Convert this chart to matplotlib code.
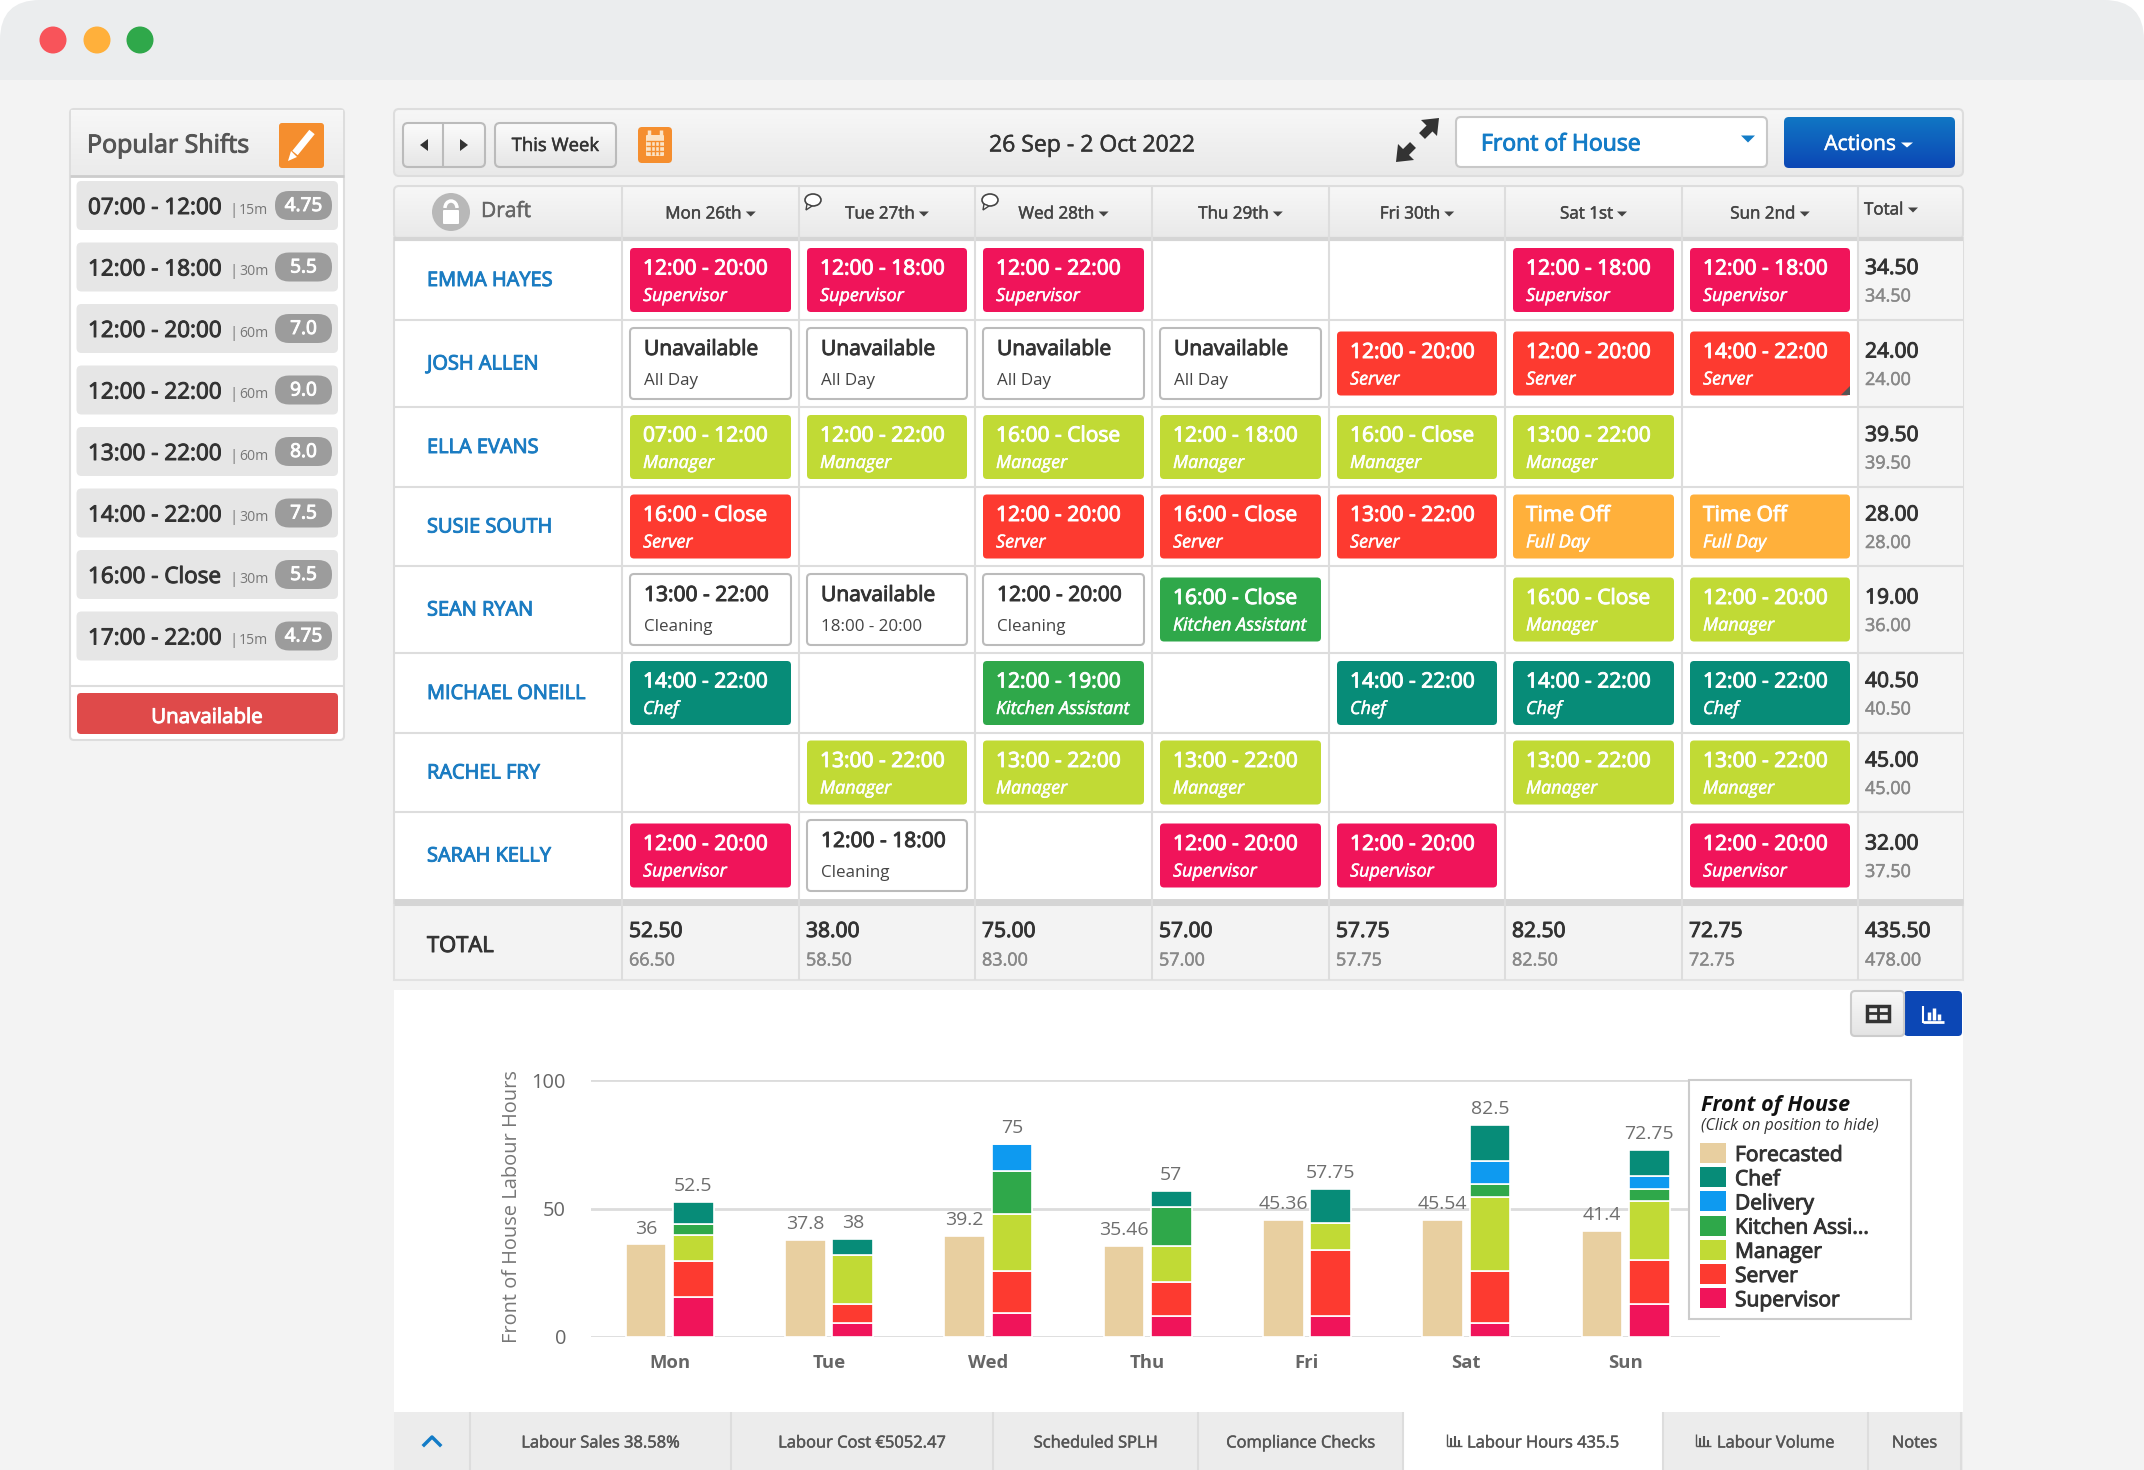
import numpy as np
import matplotlib
matplotlib.use('Agg')
import matplotlib.pyplot as plt
import matplotlib.patheffects as pe
from matplotlib.patches import FancyBboxPatch, Rectangle, Circle, Polygon, Ellipse, Arc

plt.rcParams['font.family'] = ['Open Sans', 'DejaVu Sans']

# chart data
days = ['Mon', 'Tue', 'Wed', 'Thu', 'Fri', 'Sat', 'Sun']
forecasted = [36, 37.8, 39.2, 35.46, 45.36, 45.54, 41.4]
supervisor = [15.5, 5.5, 9.5, 8, 8, 5.5, 13]
server = [14, 7.5, 16, 13.5, 25.75, 20, 17]
manager = [10, 19, 22.5, 14, 10.5, 29, 23]
kitchen = [4.5, 0, 16.5, 15, 0, 5, 4.5]
delivery = [0, 0, 10.5, 0, 0, 9, 5]
chef = [8.5, 6, 0, 6.5, 13.5, 14, 10.25]
totals = [52.5, 38, 75, 57, 57.75, 82.5, 72.75]
y_ticks = [0, 50, 100]

# roster data
day_heads = ['Mon 26th', 'Tue 27th', 'Wed 28th', 'Thu 29th', 'Fri 30th', 'Sat 1st', 'Sun 2nd']
names = ['EMMA HAYES', 'JOSH ALLEN', 'ELLA EVANS', 'SUSIE SOUTH', 'SEAN RYAN', 'MICHAEL ONEILL', 'RACHEL FRY', 'SARAH KELLY']
emma = [('12:00 - 20:00', 'Supervisor'), ('12:00 - 18:00', 'Supervisor'), ('12:00 - 22:00', 'Supervisor'), None, None, ('12:00 - 18:00', 'Supervisor'), ('12:00 - 18:00', 'Supervisor')]
josh = [('Unavailable', 'All Day'), ('Unavailable', 'All Day'), ('Unavailable', 'All Day'), ('Unavailable', 'All Day'), ('12:00 - 20:00', 'Server'), ('12:00 - 20:00', 'Server'), ('14:00 - 22:00', 'Server')]
ella = [('07:00 - 12:00', 'Manager'), ('12:00 - 22:00', 'Manager'), ('16:00 - Close', 'Manager'), ('12:00 - 18:00', 'Manager'), ('16:00 - Close', 'Manager'), ('13:00 - 22:00', 'Manager'), None]
susie = [('16:00 - Close', 'Server'), None, ('12:00 - 20:00', 'Server'), ('16:00 - Close', 'Server'), ('13:00 - 22:00', 'Server'), ('Time Off', 'Full Day'), ('Time Off', 'Full Day')]
sean = [('13:00 - 22:00', 'Cleaning'), ('Unavailable', '18:00 - 20:00'), ('12:00 - 20:00', 'Cleaning'), ('16:00 - Close', 'Kitchen Assistant'), None, ('16:00 - Close', 'Manager'), ('12:00 - 20:00', 'Manager')]
michael = [('14:00 - 22:00', 'Chef'), None, ('12:00 - 19:00', 'Kitchen Assistant'), None, ('14:00 - 22:00', 'Chef'), ('14:00 - 22:00', 'Chef'), ('12:00 - 22:00', 'Chef')]
rachel = [None, ('13:00 - 22:00', 'Manager'), ('13:00 - 22:00', 'Manager'), ('13:00 - 22:00', 'Manager'), None, ('13:00 - 22:00', 'Manager'), ('13:00 - 22:00', 'Manager')]
sarah = [('12:00 - 20:00', 'Supervisor'), ('12:00 - 18:00', 'Cleaning'), None, ('12:00 - 20:00', 'Supervisor'), ('12:00 - 20:00', 'Supervisor'), None, ('12:00 - 20:00', 'Supervisor')]
roster = [emma, josh, ella, susie, sean, michael, rachel, sarah]
row_hours = ['34.50', '24.00', '39.50', '28.00', '19.00', '40.50', '45.00', '32.00']
row_fore = ['34.50', '24.00', '39.50', '28.00', '36.00', '40.50', '45.00', '37.50']
day_hours = ['52.50', '38.00', '75.00', '57.00', '57.75', '82.50', '72.75', '435.50']
day_fore = ['66.50', '58.50', '83.00', '57.00', '57.75', '82.50', '72.75', '478.00']

# popular shifts
pop_times = ['07:00 - 12:00', '12:00 - 18:00', '12:00 - 20:00', '12:00 - 22:00', '13:00 - 22:00', '14:00 - 22:00', '16:00 - Close', '17:00 - 22:00']
pop_breaks = ['15m', '30m', '60m', '60m', '60m', '30m', '30m', '15m']
pop_hours = ['4.75', '5.5', '7.0', '9.0', '8.0', '7.5', '5.5', '4.75']

tab_labels = ['Labour Sales 38.58%', 'Labour Cost €5052.47', 'Scheduled SPLH', 'Compliance Checks', 'Labour Hours 435.5', 'Labour Volume', 'Notes']

colors = {'Supervisor': '#f0145a', 'Server': '#fd3a30', 'Manager': '#c1da35', 'Kitchen Assistant': '#2fa84a',
          'Delivery': '#0e9af0', 'Chef': '#078c78', 'Forecasted': '#e8cfa0'}
time_off = '#ffb03b'

W, H = 2144, 1470
fig = plt.figure(figsize=(W / 100, H / 100), dpi=100, facecolor='white')
ui = fig.add_axes([0, 0, 1, 1])
ui.set_xlim(0, W)
ui.set_ylim(H, 0)
ui.set_autoscale_on(False)
ui.axis('off')
renderer = fig.canvas.get_renderer()
strokes = {'medium': 0.35, 'semibold': 0.7}


def fs(px):
    return px * 0.72


def box(x0, y0, x1, y1, r=0, fc='white', ec='none', lw=1, z=2, on=None):
    if r:
        p = FancyBboxPatch((x0 + r, y0 + r), x1 - x0 - 2 * r, y1 - y0 - 2 * r, boxstyle='round,pad=%s,rounding_size=%s' % (r, r),
                           fc=fc, ec=ec, lw=lw, zorder=z)
    else:
        p = Rectangle((x0, y0), x1 - x0, y1 - y0, fc=fc, ec=ec, lw=lw, zorder=z)
    (on or ui).add_patch(p)
    return p


def grad(x0, y0, x1, y1, c0, c1, r=0, ec='none', z=2):
    p = box(x0, y0, x1, y1, r, fc='none', ec=ec, lw=1.5, z=z + 0.1)
    rgb = np.linspace(matplotlib.colors.to_rgb(c0), matplotlib.colors.to_rgb(c1), 64).reshape(64, 1, 3)
    im = ui.imshow(rgb, extent=(x0, x1, y1, y0), aspect='auto', zorder=z)
    im.set_clip_path(p)


def txt(x, y, s, px=20, color='#444444', ha='left', va='center', weight='normal', style='normal', z=5, on=None):
    kw = 'bold' if weight == 'bold' else 'normal'
    t = (on or ui).text(x, y + 2, s, fontsize=fs(px), color=color, ha=ha, va=va, fontweight=kw, fontstyle=style, zorder=z)
    if weight in strokes:
        t.set_path_effects([pe.withStroke(linewidth=strokes[weight], foreground=color)])
    return t


def caret(x, y, w=6, h=5, color='#444444', z=5):
    ui.add_patch(Polygon([(x - w, y - h / 2), (x + w, y - h / 2), (x, y + h / 2)], fc=color, ec='none', zorder=z))


def hline(x0, x1, y, color='#dddddd', lw=1.5, z=3):
    ui.plot([x0, x1], [y, y], color=color, lw=lw, zorder=z, solid_capstyle='butt')


def vline(x, y0, y1, color='#dddddd', lw=1.5, z=3):
    ui.plot([x, x], [y0, y1], color=color, lw=lw, zorder=z, solid_capstyle='butt')


# window
box(0, 0, W, H + 80, 40, fc='#ebedee', z=0)
box(0, 80, W, H, fc='#f3f3f3', z=0.5)
for cx, c in zip([53, 97, 140], ['#f8545a', '#ffb03b', '#2fa84a']):
    ui.add_patch(Circle((cx, 40), 13.5, fc=c, ec='none', zorder=3))

# popular shifts panel
box(70, 109, 344, 740, 4, fc='white', ec='#dddddd', lw=1.5)
grad(71, 110, 343, 176, '#f7f7f7', '#ebebeb', z=2.2)
hline(70, 344, 176, '#cccccc', 2)
txt(87, 144, 'Popular Shifts', 25, '#555555', weight='semibold')
box(279, 123, 324, 168, 3, fc='#f58e2e', z=3)
ui.plot([295, 312], [153, 132], color='white', lw=5, zorder=4, solid_capstyle='butt')
ui.add_patch(Polygon([(288, 161), (297, 157), (291, 151)], fc='white', ec='none', zorder=4))
for i in range(len(pop_times)):
    y0 = 181 + i * 61.5
    box(76.5, y0, 338, y0 + 49, 5, fc='#e6e6e6', z=3)
    txt(88, y0 + 25.5, pop_times[i], 22.5, '#333333', weight='semibold')
    txt(230, y0 + 27, '| ', 15, '#777777')
    txt(239, y0 + 27, pop_breaks[i], 14, '#777777')
    box(275, y0 + 10, 332, y0 + 39, 14, fc='#9c9c9c', z=4)
    txt(303.5, y0 + 23, pop_hours[i], 19, 'white', ha='center', weight='semibold')
hline(70, 344, 686, '#dddddd', 1.5)
box(77, 693, 338, 734, 4, fc='#df4a4a', z=3)
txt(207, 716, 'Unavailable', 20.5, 'white', ha='center', weight='semibold')

# toolbar
grad(394, 109, 1963, 176, '#f7f7f7', '#e9e9e9', r=5, ec='#dddddd')
grad(403, 123, 485, 167, '#fbfbfb', '#e6e6e6', r=5, ec='#bbbbbb', z=3)
vline(443, 123, 167, '#bbbbbb')
ui.add_patch(Polygon([(428, 139), (428, 151), (420, 145)], fc='#333333', zorder=5))
ui.add_patch(Polygon([(460, 139), (460, 151), (468, 145)], fc='#333333', zorder=5))
grad(495, 123, 616, 167, '#fbfbfb', '#e6e6e6', r=5, ec='#bbbbbb', z=3)
txt(555.5, 144, 'This Week', 18.5, '#333333', ha='center', weight='medium')
box(638, 127, 672, 163, 4, fc='#f58e2e', z=3)
box(646, 135, 664, 156, 1, fc='#fbe3c5', z=4)
for gx in [651, 655, 659]:
    vline(gx, 141, 155, '#f58e2e', 1, 5)
for gy in [141, 146, 151]:
    hline(646, 664, gy, '#f58e2e', 1, 5)
for gx in [649, 661]:
    vline(gx, 130, 137, '#fbe3c5', 2.5, 5)
txt(1092, 143.5, '26 Sep - 2 Oct 2022', 23, '#333333', ha='center', weight='medium')
# expand icon
ui.plot([1422, 1432], [136, 126], color='#333333', lw=6, zorder=5, solid_capstyle='butt')
ui.add_patch(Polygon([(1439, 118), (1421, 120), (1437, 136)], fc='#333333', zorder=5))
ui.plot([1413, 1403], [145, 155], color='#333333', lw=6, zorder=5, solid_capstyle='butt')
ui.add_patch(Polygon([(1396, 162), (1414, 160), (1398, 144)], fc='#333333', zorder=5))
box(1456, 117, 1767, 167, 5, fc='white', ec='#c8c8c8', lw=1.5, z=3)
txt(1481, 142.5, 'Front of House', 23, '#137cc7', weight='semibold')
caret(1748, 139, 7, 7, '#137cc7')
grad(1784, 117, 1955, 168, '#1076c4', '#0c47b5', r=5, z=3)
txt(1860, 142.5, 'Actions', 21, 'white', ha='center', weight='medium')
caret(1907, 145, 6, 5, 'white')

# roster table
col_x = [622, 799, 975, 1152, 1329, 1505, 1682, 1858]
row_y = [240, 320, 407, 487, 566, 653, 733, 812, 899]
grad(394, 186, 1963, 239, '#f7f7f7', '#e9e9e9', r=5, ec='#dddddd')
box(394, 238, 1963, 905, fc='white', ec='#dddddd', lw=1.5)
box(1858, 240, 1963, 899, fc='#f5f5f5', z=2.2)
box(394, 905, 1963, 980, fc='#f3f3f3', ec='#e2e2e2', lw=1.5)
hline(394, 1963, 239, '#d5d5d5', 3)
hline(394, 1963, 902, '#d5d5d5', 5)
for y in row_y[1:-1]:
    hline(394, 1963, y)
for x in col_x:
    vline(x, 186, 980)

ui.add_patch(Circle((451, 212), 19, fc='#b8b8b8', ec='none', zorder=4))
box(443, 210, 459, 224, 1, fc='white', z=5)
ui.add_patch(Arc((451, 208), 12, 14, theta1=180, theta2=360, color='white', lw=2.5, zorder=5))
txt(481, 209.5, 'Draft', 21, '#666666', weight='medium')
for i, d in enumerate(day_heads):
    cx = (col_x[i] + col_x[i + 1]) / 2
    t = txt(cx - 7, 212.5, d, 17, '#444444', ha='center', weight='medium')
    caret(t.get_window_extent(renderer).x1 + 9, 214, 5, 5)
txt(1864, 208.5, 'Total', 17, '#444444', weight='medium')
caret(1913, 210, 5, 5)
for bx in [813, 990]:
    ui.add_patch(Ellipse((bx, 200), 16, 12, fc='white', ec='#444444', lw=1.2, zorder=5))
    ui.add_patch(Polygon([(bx - 6, 204), (bx - 7, 210), (bx - 1, 206)], fc='white', ec='#444444', lw=1, zorder=5))

for r, name in enumerate(names):
    top, bot = row_y[r], row_y[r + 1]
    cy = (top + bot) / 2
    txt(427, cy - 1, name, 20, '#1b7cc2', weight='semibold')
    txt(1865, cy - 13.5, row_hours[r], 21, '#333333', weight='semibold')
    txt(1865, cy + 14.5, row_fore[r], 18, '#888888', weight='medium')
    for c, cell in enumerate(roster[r]):
        if cell is None:
            continue
        x0, x1 = col_x[c] + 8, col_x[c + 1] - 8
        main, sub = cell
        plain = sub in ('All Day', 'Cleaning', '18:00 - 20:00')
        if plain:
            box(x0, cy - 35.5, x1, cy + 35.5, 4, fc='white', ec='#bbbbbb', lw=1.5, z=3)
            txt(x0 + 14, cy - 16, main, 21, '#333333', weight='semibold')
            txt(x0 + 14, cy + 15, sub, 17, '#444444')
        else:
            fc = time_off if main == 'Time Off' else colors[sub]
            box(x0, cy - 32, x1, cy + 32, 4, fc=fc, z=3)
            txt(x0 + 13, cy - 13, main, 21, 'white', weight='semibold')
            txt(x0 + 13, cy + 14, sub, 18, 'white', style='italic', weight='medium')

# corner mark on josh's sunday shift
ui.add_patch(Polygon([(1850, 395), (1850, 386), (1841, 395)], fc='#555555', ec='none', zorder=4))

txt(427, 944.5, 'TOTAL', 22, '#333333', weight='semibold')
for i in range(8):
    txt(col_x[i] + 7, 929.5, day_hours[i], 21, '#333333', weight='semibold')
    txt(col_x[i] + 7, 958.5, day_fore[i], 18, '#888888', weight='medium')

# chart panel
box(394, 990, 1963, H, fc='white', z=1)
grad(1851, 991, 1904, 1036, '#f8f8f8', '#e4e4e4', r=4, ec='#cccccc', z=3)
box(1904, 991, 1962, 1036, 4, fc='#0c47b5', z=3)
box(1867, 1006, 1889, 1021, fc='none', ec='#333333', lw=2.5, z=5)
vline(1878, 1006, 1021, '#333333', 2, 5)
hline(1867, 1889, 1013, '#333333', 2, 5)
for bx, by in [(1929, 1012), (1934, 1008), (1939, 1014)]:
    vline(bx, by, 1020, 'white', 2.5, 5)
vline(1923, 1006, 1023, 'white', 1.5, 5)
hline(1923, 1944, 1022, 'white', 2, 5)

# tabs
tab_x = [470, 731, 993, 1198, 1403, 1663, 1868, 1961]
box(394, 1412, 1963, H, fc='#ececec', z=2)
vline(470, 1412, H, '#dddddd')
ui.plot([424, 432, 440], [1445, 1437, 1445], color='#137cc7', lw=2.5, zorder=5)
for i, lab in enumerate(tab_labels):
    if i == 4:
        box(tab_x[i], 1412, tab_x[i + 1], H, fc='white', z=2.5)
    vline(tab_x[i + 1], 1412, H, '#dddddd')
    cx = (tab_x[i] + tab_x[i + 1]) / 2
    if i in (4, 5):
        ix = cx - (86 if i == 4 else 70)
        vline(ix, 1434, 1446, '#555555', 1, 5)
        hline(ix, ix + 15, 1446, '#555555', 1, 5)
        for dx, ty in [(4, 1438), (8, 1436), (12, 1440)]:
            vline(ix + dx, ty, 1446, '#555555', 1.5, 5)
        cx += 10
    txt(cx, 1441.5, lab, 16.5, '#555555', ha='center', weight='medium')

# stacked chart
ax = fig.add_axes([591 / W, 1 - 1337 / H, (1720 - 591) / W, (1337 - 1080) / H])
ax.patch.set_alpha(0)
ax.set_xlim(-0.493, 6.594)
ax.set_ylim(0, 100)
ax.set_axisbelow(True)
ax.set_yticks(y_ticks)
ax.yaxis.grid(True, color='#dcdcdc', lw=2)
for s in ax.spines.values():
    s.set_visible(False)
xs = np.arange(len(days))
ax.bar(xs - 0.1475, forecasted, 0.255, color=colors['Forecasted'], edgecolor='white', lw=1.2)
bottom = np.zeros(len(days))
for vals, key in [(supervisor, 'Supervisor'), (server, 'Server'), (manager, 'Manager'), (kitchen, 'Kitchen Assistant'), (delivery, 'Delivery'), (chef, 'Chef')]:
    ax.bar(xs + 0.15, vals, 0.255, bottom=bottom, color=colors[key], edgecolor='white', lw=1.2)
    bottom = bottom + np.array(vals)
for i in range(len(days)):
    ax.annotate('%g' % forecasted[i], (xs[i] - 0.1475, forecasted[i]), xytext=(0, 5), textcoords='offset points', ha='center', va='bottom', fontsize=fs(19.5), color='#6e6e6e')
    ax.annotate('%g' % totals[i], (xs[i] + 0.15, totals[i]), xytext=(0, 5), textcoords='offset points', ha='center', va='bottom', fontsize=fs(19.5), color='#6e6e6e')
ax.set_xticks(xs, days, fontsize=fs(18.5), fontweight='bold', color='#666666')
ax.tick_params(axis='x', length=0, pad=12)
ax.tick_params(axis='y', length=0, pad=18, labelsize=fs(20), labelcolor='#666666')
ui.text(512, 1207, 'Front of House Labour Hours', rotation=90, fontsize=fs(20), color='#777777', ha='center', va='center', zorder=5)

# legend
legend_keys = ['Forecasted', 'Chef', 'Delivery', 'Kitchen Assistant', 'Manager', 'Server', 'Supervisor']
legend_labels = ['Forecasted', 'Chef', 'Delivery', 'Kitchen Assi...', 'Manager', 'Server', 'Supervisor']
lg = fig.add_axes([0, 0, 1, 1])
lg.set_xlim(0, W)
lg.set_ylim(H, 0)
lg.set_autoscale_on(False)
lg.axis('off')
box(1689, 1080, 1911, 1319, fc='white', ec='#cccccc', lw=1.5, z=2, on=lg)
txt(1701, 1103.5, 'Front of House', 21.5, '#111111', weight='bold', style='italic', on=lg)
txt(1701, 1124.5, '(Click on position to hide)', 16, '#333333', style='italic', on=lg)
for i, (k, lab) in enumerate(zip(legend_keys, legend_labels)):
    yk = 1143 + i * 24.2
    box(1700, yk, 1726, yk + 20, fc=colors[k], z=3, on=lg)
    txt(1735, yk + 10.5, lab, 21, '#333333', weight='semibold', on=lg)

fig.savefig('out.png', dpi=100)
